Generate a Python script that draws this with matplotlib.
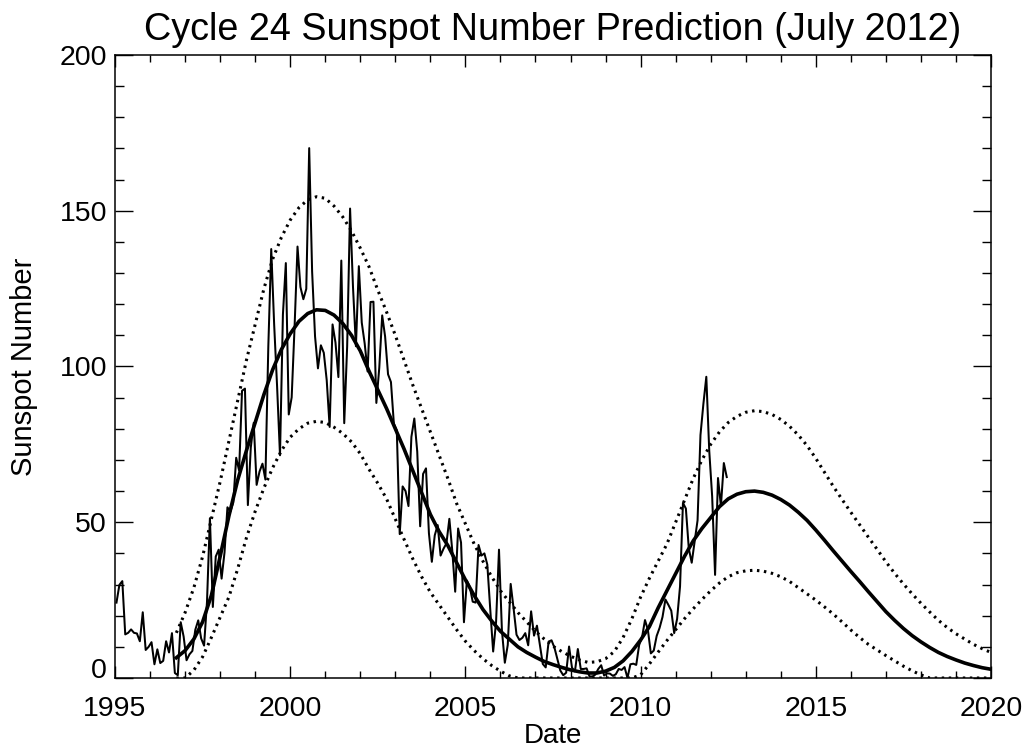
"""Cycle 24 sunspot number prediction plot (IDL style)."""

import numpy as np
import matplotlib
matplotlib.use("Agg")
import matplotlib.pyplot as plt
from matplotlib import transforms

# monthly sunspot numbers, Jan 1995 .. Jun 2012
ssn = [
    24.2, 29.9, 31.1, 14.0, 14.5, 15.6, 14.5, 14.3, 11.8, 21.1, 9.0, 10.0,      # 1995
    11.5, 4.4, 9.2, 4.8, 5.5, 11.8, 8.2, 14.4, 1.6, 0.9, 17.9, 13.3,            # 1996
    5.7, 7.6, 8.7, 15.5, 18.5, 12.7, 10.4, 24.4, 51.3, 22.8, 39.0, 41.2,        # 1997
    31.9, 40.3, 54.8, 53.4, 56.3, 70.7, 66.6, 92.2, 92.9, 55.5, 74.0, 81.9,     # 1998
    62.0, 66.3, 68.8, 63.7, 106.4, 137.7, 113.5, 93.7, 71.5, 116.7, 133.2, 84.6,  # 1999
    90.1, 112.9, 138.5, 125.5, 121.6, 124.9, 170.1, 130.5, 109.7, 99.4, 106.8, 104.4,  # 2000
    95.6, 80.6, 113.5, 107.7, 96.6, 134.0, 81.8, 106.4, 150.7, 125.5, 106.5, 132.2,  # 2001
    114.1, 107.4, 98.4, 120.7, 120.8, 88.3, 99.6, 116.4, 109.6, 97.5, 95.0, 81.6,  # 2002
    79.5, 46.2, 61.5, 60.0, 55.2, 77.4, 83.3, 72.7, 48.7, 65.5, 67.3, 46.5,     # 2003
    37.3, 45.8, 49.1, 39.3, 41.5, 43.2, 51.1, 40.9, 27.7, 48.0, 43.5, 17.9,     # 2004
    31.3, 29.2, 24.5, 24.2, 42.7, 39.3, 40.0, 36.4, 22.1, 8.5, 18.0, 41.2,      # 2005
    15.3, 4.9, 10.6, 30.2, 22.3, 13.9, 12.2, 12.9, 14.4, 10.5, 21.4, 13.6,      # 2006
    16.8, 10.7, 4.5, 3.4, 11.7, 12.1, 9.7, 6.0, 2.4, 0.9, 1.7, 10.1,            # 2007
    3.3, 2.1, 9.3, 2.9, 2.9, 3.1, 0.5, 0.5, 1.1, 2.9, 4.1, 0.8,                 # 2008
    1.5, 1.4, 0.7, 1.2, 2.9, 2.6, 3.5, 0.0, 4.4, 4.6, 4.2, 10.6,                # 2009
    13.1, 18.6, 15.4, 7.9, 8.8, 13.5, 16.1, 19.6, 25.2, 23.5, 21.6, 14.4,       # 2010
    19.0, 29.4, 56.2, 54.4, 41.6, 37.0, 43.9, 50.6, 78.0, 88.0, 96.7, 73.0,     # 2011
    58.3, 33.1, 64.2, 55.2, 69.0, 64.5,                                         # 2012
]

# fitted curves, read quarterly from 1996.75 to 2020.0
fit = [
    6.5,
    8.8, 12.5, 18, 26.5,
    39, 52, 63.5, 73,
    82, 91, 99, 105.5,
    110.5, 114.5, 117, 118.2,
    118, 116.5, 113.8, 110,
    105, 98.5, 92.5, 86.5,
    80, 73.5, 66.5, 59.5,
    52.5, 47, 42.5, 37,
    31.5, 26.5, 22, 18.3,
    15, 12.5, 10, 8.2,
    6.7, 5.3, 4.3, 3.4,
    2.6, 2.0, 1.6, 1.6,
    2.2, 3.4, 5.5, 8.5,
    12.2, 16.5, 22.5, 28,
    33.5, 39, 44, 48,
    51.5, 55, 57.5, 59,
    59.8, 60, 59.6, 58.7,
    57.3, 55.5, 53.2, 50.6,
    47.5, 44.2, 40.8, 37.5,
    34.2, 31, 27.7, 24.5,
    21.3, 18.5, 15.9, 13.6,
    11.6, 9.8, 8.2, 6.9,
    5.8, 4.8, 4.0, 3.3,
    2.8,
]

fit_high = [
    14.5,
    21, 29, 39, 51,
    63, 76, 89, 102,
    113.5, 125, 134.5, 141.5,
    147, 151, 153.5, 154.5,
    154, 151.5, 148, 143.5,
    138, 132, 124.5, 117.5,
    110, 102, 94, 86.5,
    79, 71.5, 64, 56,
    49.5, 43, 37.5, 32.5,
    28, 24.5, 21, 18,
    15, 12.5, 10.2, 8.5,
    7, 5.8, 5, 5.2,
    6.2, 8.5, 13, 19,
    26, 32, 37.5, 43,
    50, 57, 64, 70,
    75, 79, 82, 84,
    85.3, 85.8, 85.5, 84.6,
    83, 80.8, 78, 74.6,
    70.5, 66, 61.5, 57.3,
    53.2, 49.2, 45.2, 41.3,
    37.3, 33.6, 30.2, 27,
    24, 21.2, 18.5, 16.2,
    14.2, 12.5, 10.8, 9.4,
    8.2,
]

fit_low = [
    0,
    0, 2.5, 6.8, 13,
    19.5, 26, 35, 45,
    53.5, 61, 67.5, 73,
    77.3, 80, 81.8, 82.4,
    82, 80.5, 78.5, 75.8,
    72, 67, 62.5, 57.5,
    51, 44.5, 38.2, 32.5,
    27.5, 23.5, 19.5, 15.5,
    11.8, 8.8, 6.2, 4,
    2.2, 0.7, 0, 0,
    0, 0, 0, 0,
    0, 0, 0, 0,
    0, 0, 0, 0,
    1, 4.5, 8.3, 12,
    15.5, 19, 22.2, 25.2,
    28, 30.5, 32.5, 33.8,
    34.4, 34.6, 34.3, 33.6,
    32.5, 31, 29, 27,
    25, 22.8, 20.5, 18,
    15.4, 13, 10.8, 9,
    7.2, 5.5, 3.8, 2.3,
    1, 0, 0, 0,
    0, 0, 0, 0,
    0,
]

plt.rcParams["font.family"] = "Liberation Sans"

fig = plt.figure(figsize=(10.26, 7.5), dpi=100)
ax = fig.add_axes([0.1121, 0.096, 0.8538, 0.8307])

months = 1995 + (np.arange(len(ssn)) + 0.5) / 12
curve_years = 1996.75 + 0.25 * np.arange(len(fit))

dots = dict(color="k", lw=2.2, linestyle=(0, (0.8, 1.5)), dash_capstyle="butt")
ax.plot(curve_years, fit_high, **dots)
ax.plot(curve_years, fit_low, **dots)
ax.plot(curve_years, fit, color="k", lw=2.6)
ax.plot(months, ssn, color="k", lw=1.45)

ax.set_xlim(1995, 2020)
ax.set_ylim(0, 200)
ax.set_xticks(range(1995, 2021, 5))
ax.set_xticks(range(1995, 2021), minor=True)
ax.set_yticks(range(0, 201, 50))
ax.set_yticks(range(0, 201, 10), minor=True)
ax.tick_params(which="both", direction="in", top=True, right=True, width=1, labelsize=20.5)
ax.tick_params(axis="x", which="major", length=8.6, pad=13)
ax.tick_params(axis="x", which="minor", length=4.7)
ax.tick_params(axis="y", which="major", length=13, pad=5.8)
ax.tick_params(axis="y", which="minor", length=6.5)
for s in ax.spines.values():
    s.set_linewidth(1.1)

# IDL lifts the "0" label off the corner
zero = ax.yaxis.get_major_ticks()[0].label1
zero.set_transform(zero.get_transform() + transforms.ScaledTranslation(0, 0.1, fig.dpi_scale_trans))

ax.set_title("Cycle 24 Sunspot Number Prediction (July 2012)", fontsize=27.2, pad=10.8)
ax.set_xlabel("Date", fontsize=20)
ax.xaxis.set_label_coords(0.5, -0.104)
ax.xaxis.label.set_va("baseline")
ax.set_ylabel("Sunspot Number", fontsize=21)
ax.yaxis.set_label_coords(-0.104, 0.5)
ax.yaxis.label.set_va("center")

fig.savefig("out.png", dpi=100)
